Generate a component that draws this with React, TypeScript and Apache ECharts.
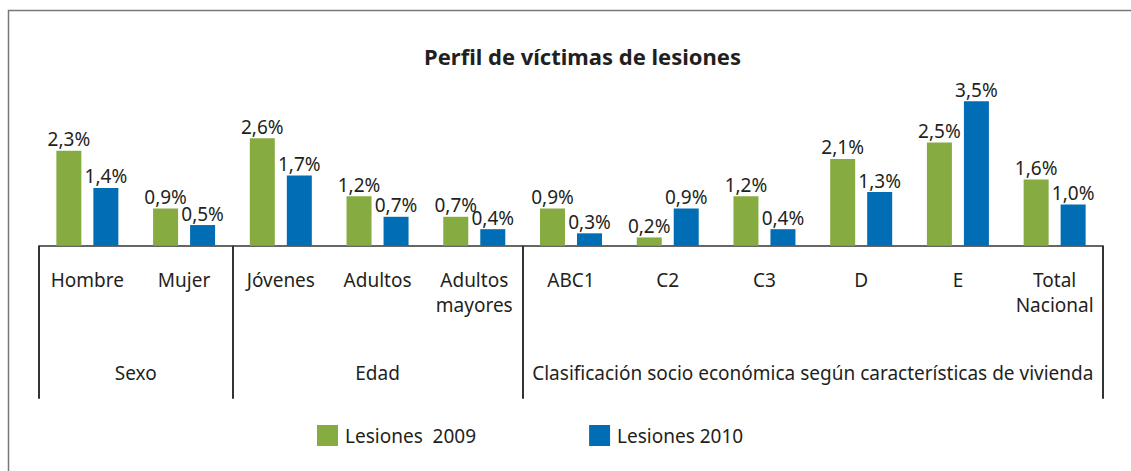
import React, { useEffect, useRef } from "react";
import * as echarts from "echarts";

const categories = ["Hombre", "Mujer", "Jóvenes", "Adultos", "Adultos\nmayores", "ABC1", "C2", "C3", "D", "E", "Total\nNacional"];
const values2009 = [2.3, 0.9, 2.6, 1.2, 0.7, 0.9, 0.2, 1.2, 2.1, 2.5, 1.6];
const values2010 = [1.4, 0.5, 1.7, 0.7, 0.4, 0.3, 0.9, 0.4, 1.3, 3.5, 1.0];
const seriesNames = ["Lesiones  2009", "Lesiones 2010"];
const groupLabels = ["Sexo", "Edad", "Clasificación socio económica según características de vivienda"];
// group sizes in categories
const groupSizes = [2, 3, 6];

const FONT = "'Noto Sans', sans-serif";
const TEXT = "#231f20";
const GREEN = "#86ac41";
const BLUE = "#006db5";

export default function App() {
  const ref = useRef<HTMLDivElement>(null);
  useEffect(() => {
    if (!ref.current) return;
    const chart = echarts.init(ref.current, null, { renderer: "svg" });

    // half-category point axis: 2*N+1 points; group label at group center, separators at boundaries
    const n = categories.length;
    const halfData: string[] = new Array(2 * n + 1).fill("");
    const boundaries: number[] = [0];
    let acc = 0;
    groupSizes.forEach((s, i) => {
      halfData[2 * acc + s] = groupLabels[i];
      acc += s;
      boundaries.push(2 * acc);
    });

    const fmt = (p: any) => p.value.toFixed(1).replace(".", ",") + "%";

    chart.setOption({
      animation: false,
      textStyle: { fontFamily: FONT, color: TEXT },
      title: {
        text: "Perfil de víctimas de lesiones",
        left: 419,
        top: 40,
        textStyle: { fontFamily: FONT, fontSize: 22, fontWeight: "bold", color: TEXT },
      },
      graphic: [
        {
          type: "rect",
          shape: { x: 8.5, y: 10.5, width: 1200, height: 500 },
          style: { fill: "none", stroke: "#777777", lineWidth: 1.5 },
          silent: true,
        },
      ],
      legend: {
        left: 312,
        top: 420,
        itemWidth: 21,
        itemHeight: 21,
        itemGap: 113,
        icon: "rect",
        data: seriesNames,
        textStyle: { fontFamily: FONT, fontSize: 19, color: TEXT, padding: [0, 0, 0, 2] },
      },
      grid: { left: 39, right: 28, top: 80.5, bottom: 225.3 },
      xAxis: [
        {
          type: "category",
          data: categories,
          position: "bottom",
          axisLine: { show: true, lineStyle: { color: "#333333", width: 1.5 } },
          axisTick: { show: false },
          axisLabel: {
            interval: 0,
            margin: 22,
            fontFamily: FONT,
            fontSize: 19,
            lineHeight: 25,
            color: TEXT,
            align: "center",
          },
        },
        {
          type: "category",
          data: halfData,
          boundaryGap: false,
          position: "bottom",
          axisLine: { show: false },
          axisTick: {
            show: true,
            length: 153,
            interval: (i: number) => boundaries.indexOf(i) >= 0,
            lineStyle: { color: "#333333", width: 2 },
          },
          axisLabel: {
            interval: 0,
            margin: 115,
            fontFamily: FONT,
            fontSize: 19,
            lineHeight: 25,
            color: TEXT,
          },
        },
      ],
      yAxis: { type: "value", min: 0, max: 4, show: false, splitLine: { show: false } },
      series: [
        {
          name: seriesNames[0],
          type: "bar",
          data: values2009,
          barWidth: 25,
          barGap: "48%",
          itemStyle: { color: GREEN },
          label: { show: true, position: "top", distance: 2, formatter: fmt, fontFamily: FONT, fontSize: 19, color: TEXT },
        },
        {
          name: seriesNames[1],
          type: "bar",
          data: values2010,
          barWidth: 25,
          barGap: "48%",
          itemStyle: { color: BLUE },
          label: { show: true, position: "top", distance: 2, formatter: fmt, fontFamily: FONT, fontSize: 19, color: TEXT },
        },
      ],
    });
    return () => chart.dispose();
  }, []);
  return (
    <div
      ref={ref}
      style={{ position: "fixed", left: 0, top: 0, width: 1131, height: 471, background: "#ffffff" }}
    />
  );
}
